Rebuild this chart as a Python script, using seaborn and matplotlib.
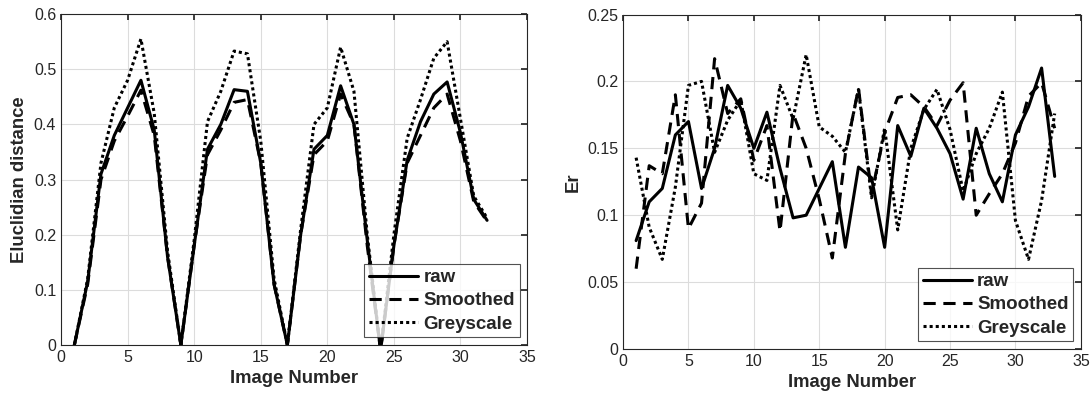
import pandas as pd
import numpy as np
import matplotlib
matplotlib.use("Agg")
import matplotlib.pyplot as plt
import seaborn as sns

sns.set_theme(style="white")
plt.rcParams["font.family"] = ["Liberation Sans", "DejaVu Sans"]

# 왼쪽: Euclidean distance
img_left = list(range(1, 33))
raw_left = [0, 0.115, 0.31, 0.38, 0.43, 0.48, 0.39, 0.16, 0, 0.18, 0.355, 0.40,
            0.463, 0.46, 0.33, 0.11, 0, 0.20, 0.355, 0.38, 0.47, 0.40, 0.19, -0.01,
            0.18, 0.335, 0.405, 0.455, 0.477, 0.385, 0.264, 0.226]
smooth_left = [0, 0.11, 0.30, 0.37, 0.415, 0.462, 0.38, 0.16, 0, 0.18, 0.345, 0.39,
               0.44, 0.445, 0.33, 0.11, 0, 0.20, 0.345, 0.37, 0.455, 0.40, 0.18, -0.01,
               0.18, 0.33, 0.38, 0.43, 0.455, 0.37, 0.26, 0.224]
grey_left = [0, 0.12, 0.33, 0.43, 0.48, 0.555, 0.42, 0.17, 0, 0.19, 0.405, 0.46,
             0.533, 0.528, 0.37, 0.12, 0, 0.21, 0.40, 0.43, 0.54, 0.46, 0.20, -0.01,
             0.20, 0.375, 0.445, 0.52, 0.55, 0.41, 0.27, 0.23]

# 오른쪽: Er
img_right = list(range(1, 34))
raw_right = [0.081, 0.110, 0.120, 0.160, 0.170, 0.120, 0.150, 0.197, 0.180, 0.150,
             0.177, 0.135, 0.098, 0.100, 0.120, 0.140, 0.076, 0.136, 0.128, 0.076,
             0.167, 0.144, 0.180, 0.165, 0.146, 0.112, 0.165, 0.131, 0.110, 0.160,
             0.181, 0.210, 0.129]
smooth_right = [0.060, 0.137, 0.131, 0.190, 0.090, 0.109, 0.217, 0.176, 0.187, 0.141,
                0.167, 0.088, 0.176, 0.150, 0.112, 0.068, 0.146, 0.195, 0.116, 0.162,
                0.188, 0.190, 0.181, 0.167, 0.186, 0.199, 0.100, 0.116, 0.131, 0.154,
                0.189, 0.199, 0.165]
grey_right = [0.143, 0.091, 0.067, 0.121, 0.197, 0.200, 0.147, 0.171, 0.186, 0.131,
              0.126, 0.197, 0.172, 0.220, 0.166, 0.159, 0.147, 0.194, 0.113, 0.165,
              0.089, 0.150, 0.179, 0.194, 0.164, 0.118, 0.146, 0.165, 0.192, 0.096,
              0.067, 0.111, 0.176]

labels = ["raw", "Smoothed", "Greyscale"]
dash_map = {"raw": "", "Smoothed": (4, 2.5), "Greyscale": (1, 1)}


def long_df(x, series):
    parts = []
    for name, vals in zip(labels, series):
        parts.append(pd.DataFrame({"Image Number": x, "value": vals, "series": name}))
    return pd.concat(parts, ignore_index=True)


df_left = long_df(img_left, [raw_left, smooth_left, grey_left])
df_right = long_df(img_right, [raw_right, smooth_right, grey_right])

fig = plt.figure(figsize=(10.9, 4.03), dpi=100)
ax1 = fig.add_axes([0.056, 0.144, 0.4275, 0.821])
ax2 = fig.add_axes([0.5716, 0.134, 0.420, 0.830])

for ax, d, ylim, yticks, ylabel in [
    (ax1, df_left, (0, 0.6), np.arange(0, 0.61, 0.1), "Eluclidian distance"),
    (ax2, df_right, (0, 0.25), np.arange(0, 0.251, 0.05), "Er"),
]:
    sns.lineplot(data=d, x="Image Number", y="value", style="series",
                 hue="series", palette=["black"] * 3, dashes=dash_map,
                 linewidth=2.2, ax=ax, legend=True)
    ax.set_xlim(0, 35)
    ax.set_ylim(*ylim)
    ax.set_xticks(np.arange(0, 36, 5))
    ax.set_yticks(yticks)
    ax.set_yticklabels([f"{t:g}" for t in yticks])
    ax.grid(True, color="#dcdcdc", linewidth=0.8)
    ax.tick_params(direction="in", length=4, top=True, right=True,
                   labelsize=11.5, colors="#262626", labelcolor="#262626")
    for s in ax.spines.values():
        s.set_color("#262626")
        s.set_linewidth(0.8)
    ax.set_xlabel("Image Number", fontsize=13.3, fontweight="bold", color="#262626")
    ax.set_ylabel(ylabel, fontsize=13.3, fontweight="bold", color="#262626")
    handles, lbls = ax.get_legend_handles_labels()
    leg = ax.legend(handles, lbls, loc="lower right",
                    prop={"weight": "bold", "size": 13.5}, frameon=True,
                    fancybox=False, edgecolor="#262626", handlelength=2.6,
                    borderaxespad=0.4, labelspacing=0.33, borderpad=0.25,
                    handletextpad=0.3)
    leg.get_frame().set_linewidth(0.8)

fig.savefig("out.png", dpi=100)
